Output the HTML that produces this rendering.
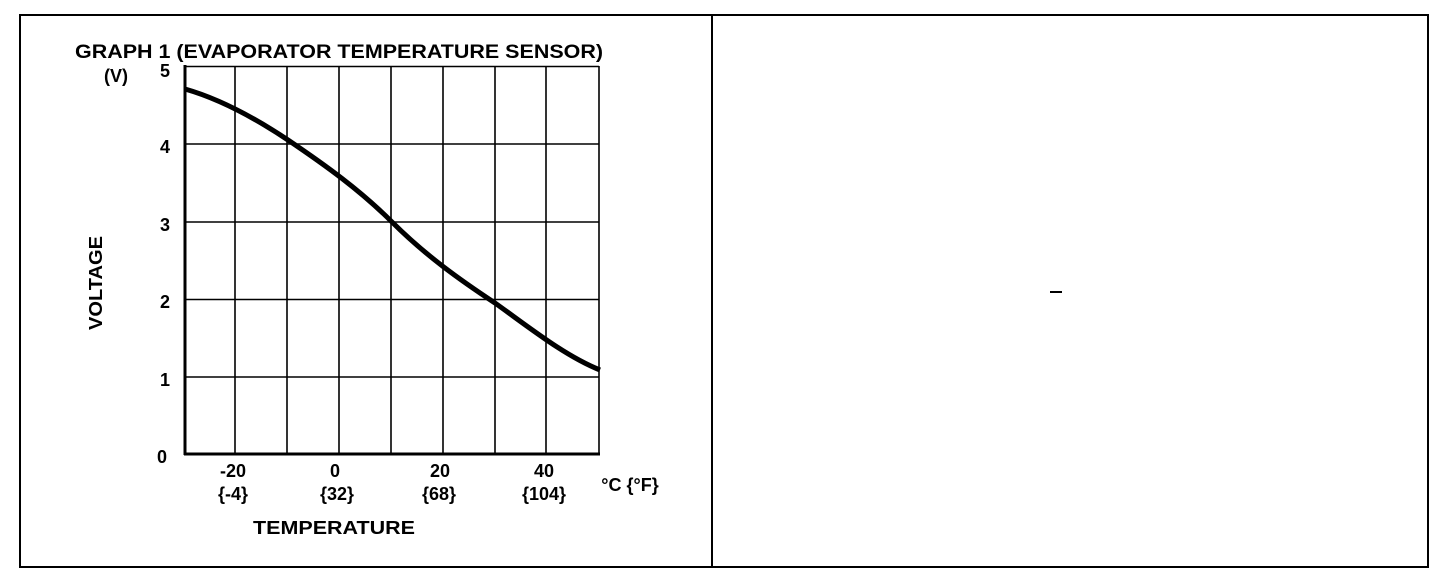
<!DOCTYPE html>
<html><head><meta charset="utf-8"><style>
html,body{margin:0;padding:0;background:#fff;}
svg{display:block;}
text{font-family:"Liberation Sans",Arial,sans-serif;font-weight:bold;fill:#000;}
</style></head><body>
<svg width="1440" height="588" viewBox="0 0 1440 588" xmlns="http://www.w3.org/2000/svg">
<rect x="20" y="15" width="1408" height="552" fill="none" stroke="#000" stroke-width="2"/>
<line x1="712" y1="15" x2="712" y2="567" stroke="#000" stroke-width="2"/>
<line x1="1050" y1="292" x2="1062" y2="292" stroke="#000" stroke-width="2"/>
<g stroke="#000" stroke-width="1.6">
<line x1="235" y1="66" x2="235" y2="454"/>
<line x1="287" y1="66" x2="287" y2="454"/>
<line x1="339" y1="66" x2="339" y2="454"/>
<line x1="391" y1="66" x2="391" y2="454"/>
<line x1="443" y1="66" x2="443" y2="454"/>
<line x1="495" y1="66" x2="495" y2="454"/>
<line x1="546" y1="66" x2="546" y2="454"/>
<line x1="599" y1="66" x2="599" y2="454"/>
<line x1="185" y1="66.5" x2="599" y2="66.5"/>
<line x1="185" y1="144" x2="599" y2="144"/>
<line x1="185" y1="222" x2="599" y2="222"/>
<line x1="185" y1="299.5" x2="599" y2="299.5"/>
<line x1="185" y1="377" x2="599" y2="377"/>
</g>
<line x1="185" y1="65" x2="185" y2="455" stroke="#000" stroke-width="3"/>
<line x1="184" y1="454" x2="600" y2="454" stroke="#000" stroke-width="3"/>
<path d="M185,89 C220,99 255,118 288,140 C325,165 360,190 392,222 C425,255 460,280 495,303 C530,328 565,356 600,370" fill="none" stroke="#000" stroke-width="5"/>
<text x="75" y="58" font-size="19" textLength="528" lengthAdjust="spacingAndGlyphs">GRAPH 1 (EVAPORATOR TEMPERATURE SENSOR)</text>
<text x="104" y="82" font-size="18">(V)</text>
<g font-size="18" text-anchor="middle">
<text x="165" y="77">5</text>
<text x="165" y="153">4</text>
<text x="165" y="231">3</text>
<text x="165" y="308">2</text>
<text x="165" y="386">1</text>
<text x="162" y="463">0</text>
<text x="233" y="477">-20</text>
<text x="233" y="500">{-4}</text>
<text x="335" y="477">0</text>
<text x="337" y="500">{32}</text>
<text x="440" y="477">20</text>
<text x="439" y="500">{68}</text>
<text x="544" y="477">40</text>
<text x="544" y="500">{104}</text>
<text x="630" y="491">°C {°F}</text>
<text x="334" y="534" textLength="162" lengthAdjust="spacingAndGlyphs">TEMPERATURE</text>
<text transform="translate(102,283) rotate(-90)" textLength="94" lengthAdjust="spacingAndGlyphs">VOLTAGE</text>
</g>
</svg>
</body></html>
